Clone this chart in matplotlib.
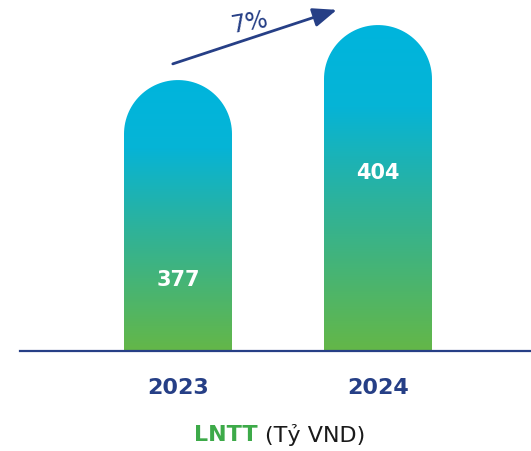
import numpy as np
import matplotlib
matplotlib.use("Agg")
import matplotlib.pyplot as plt
from matplotlib.path import Path
from matplotlib.patches import PathPatch
from matplotlib.colors import LinearSegmentedColormap

# data
years = ["2023", "2024"]
lntt = [377, 404]
growth_label = "7%"

NAVY = "#263F86"
GREEN = "#3DAA49"

grad = LinearSegmentedColormap.from_list(
    "bar", [(0.0, "#64B748"), (0.45, "#2EB29A"), (0.75, "#06B4D6"), (1.0, "#00B5DD")])

fig = plt.figure(figsize=(5.31, 4.51), dpi=100)
ax = fig.add_axes([20 / 531, 100 / 451, 511 / 531, 351 / 451])
ax.set_xlim(-0.79, 1.765)
ax.set_ylim(244, 416.3)
ax.axis("off")

# baseline
ax.axhline(244, color=NAVY, lw=1.6, zorder=5, clip_on=False)

x = np.arange(len(years))
width = 0.54
base = ax.get_ylim()[0]

# pixels per data unit, for round caps
p0 = ax.transData.transform((0, 0))
p1 = ax.transData.transform((1, 1))
px_x = p1[0] - p0[0]
px_y = p1[1] - p0[1]
rx = width / 2
ry = rx * px_x / px_y

for xi, v in zip(x, lntt):
    x0, x1 = xi - rx, xi + rx
    t = np.linspace(np.pi, 0, 60)
    verts = [(x0, base), (x0, v - ry)]
    verts += [(xi + rx * np.cos(a), v - ry + ry * np.sin(a)) for a in t]
    verts += [(x1, base), (x0, base)]
    codes = [Path.MOVETO] + [Path.LINETO] * (len(verts) - 2) + [Path.CLOSEPOLY]
    patch = PathPatch(Path(verts, codes), facecolor="none", edgecolor="none")
    ax.add_patch(patch)
    img = ax.imshow(np.linspace(0, 1, 256).reshape(-1, 1), cmap=grad, origin="lower",
                    extent=[x0, x1, base, v], aspect="auto", zorder=2)
    img.set_clip_path(patch)

# value labels inside the bars
ax.text(x[0], 278.8, str(lntt[0]), color="white", fontsize=15, fontweight="bold",
        ha="center", va="center", zorder=6)
ax.text(x[1], 331.4, str(lntt[1]), color="white", fontsize=15, fontweight="bold",
        ha="center", va="center", zorder=6)

# year labels
for xi, yr in zip(x, years):
    ax.text(xi, -0.105, yr, transform=ax.get_xaxis_transform(), color=NAVY,
            fontsize=16, fontweight="bold", ha="center", va="center")

# growth arrow
ax.annotate("", xy=(0.62, 0.972), xytext=(0.299, 0.818), xycoords="axes fraction",
            arrowprops=dict(arrowstyle="-|>,head_length=1.45,head_width=0.58",
                            color=NAVY, lw=2.0, shrinkA=0, shrinkB=0))
ax.text(0.448, 0.935, growth_label, transform=ax.transAxes, color=NAVY, fontsize=17,
        rotation=10, ha="center", va="center")

# unit caption
fig.text(258 / 531, 1 - 435 / 451, "LNTT", color=GREEN, fontsize=16,
         fontweight="bold", ha="right", va="center")
fig.text(265 / 531, 1 - 435 / 451, "(Tỷ VND)", color="#1a1a1a", fontsize=16,
         ha="left", va="center")

fig.savefig("out.png", dpi=100)
